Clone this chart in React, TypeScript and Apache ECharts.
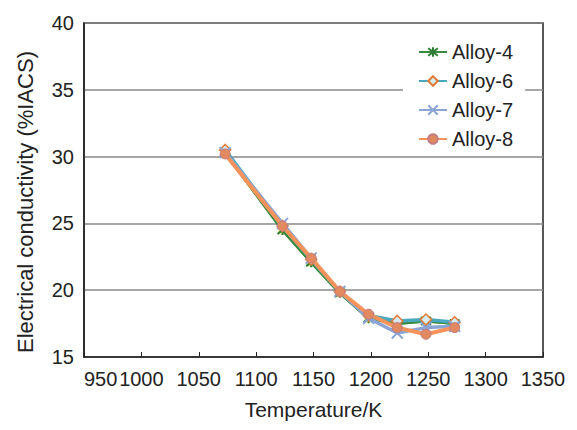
import React, { useEffect, useRef } from "react";
import * as echarts from "echarts";

const temperatures = [1073, 1123, 1148, 1173, 1198, 1223, 1248, 1273];
const alloy4 = [30.3, 24.5, 22.1, 19.8, 17.9, 17.5, 17.7, 17.5];
const alloy6 = [30.5, 24.8, 22.3, 19.9, 18.1, 17.7, 17.8, 17.6];
const alloy7 = [30.3, 25.0, 22.4, 19.9, 17.9, 16.8, 17.2, 17.3];
const alloy8 = [30.2, 24.8, 22.4, 19.9, 18.2, 17.2, 16.7, 17.2];
const seriesNames = ["Alloy-4", "Alloy-6", "Alloy-7", "Alloy-8"];

const FONT = "Liberation Sans, Arial, Helvetica, sans-serif";
const ASTERISK = "path://M1 1L9 9M9 1L1 9M5 0L5 10";
const CROSS = "path://M0 0L10 10M10 0L0 10";

const pairs = (ys: number[]) => temperatures.map((t, i) => [t, ys[i]]);

export default function App() {
  const ref = useRef<HTMLDivElement>(null);
  useEffect(() => {
    if (!ref.current) return;
    const chart = echarts.init(ref.current, null, { renderer: "svg" });
    chart.setOption({
      animation: false,
      textStyle: { fontFamily: FONT },
      grid: { left: 84, right: 34, top: 23, bottom: 73, show: true, borderColor: "#222", borderWidth: 1.5, backgroundColor: "transparent" },
      legend: {
        data: seriesNames,
        orient: "vertical",
        left: 403,
        top: 36,
        padding: [6, 12, 6, 15],
        backgroundColor: "#ffffff",
        itemWidth: 28,
        itemHeight: 12,
        itemGap: 9,
        textStyle: { fontSize: 20, color: "#222", fontFamily: FONT, lineHeight: 20 },
      },
      xAxis: {
        type: "value",
        min: 950,
        max: 1350,
        interval: 50,
        name: "Temperature/K",
        nameLocation: "middle",
        nameGap: 42,
        nameTextStyle: { fontSize: 21, color: "#222", fontFamily: FONT },
        axisLine: { show: true, lineStyle: { color: "#222", width: 1.5 } },
        axisTick: { show: true, inside: true, length: 5, lineStyle: { color: "#222", width: 1 } },
        axisLabel: {
          fontSize: 20,
          color: "#222",
          margin: 12,
          fontFamily: FONT,
          alignMinLabel: "left",
          formatter: (v: number) => String(v),
        },
        splitLine: { show: false },
      },
      yAxis: {
        type: "value",
        min: 15,
        max: 40,
        interval: 5,
        name: "Electrical conductivity (%IACS)",
        nameLocation: "middle",
        nameGap: 48,
        nameTextStyle: { fontSize: 22, color: "#222", fontFamily: FONT, padding: [0, 24, 0, 0] },
        axisLine: { show: true, lineStyle: { color: "#222", width: 1.5 } },
        axisTick: { show: false },
        axisLabel: { fontSize: 20, color: "#222", margin: 10, fontFamily: FONT },
        splitLine: { show: true, lineStyle: { color: "#888", width: 1.5 } },
      },
      series: [
        {
          name: "Alloy-4 bg",
          type: "line",
          data: pairs(alloy4),
          symbol: "rect",
          symbolSize: 9,
          lineStyle: { width: 3, color: "#3a8a3f" },
          itemStyle: { color: "#e6ef9a", borderWidth: 0 },
          z: 2,
        },
        {
          name: "Alloy-4",
          type: "line",
          data: pairs(alloy4),
          symbol: ASTERISK,
          symbolSize: 10,
          lineStyle: { width: 3, color: "#3a8a3f" },
          itemStyle: { color: "transparent", borderColor: "#2f7d35", borderWidth: 2 },
          z: 3,
        },
        {
          name: "Alloy-6",
          type: "line",
          data: pairs(alloy6),
          symbol: "diamond",
          symbolSize: 11,
          lineStyle: { width: 3.5, color: "#4aa9c0" },
          itemStyle: { color: "#d7ecf2", borderColor: "#e07b39", borderWidth: 1.5 },
          z: 4,
        },
        {
          name: "Alloy-7",
          type: "line",
          data: pairs(alloy7),
          symbol: CROSS,
          symbolSize: 11,
          lineStyle: { width: 3.5, color: "#8aa4d4" },
          itemStyle: { color: "transparent", borderColor: "#8aa4d4", borderWidth: 2 },
          z: 5,
        },
        {
          name: "Alloy-8",
          type: "line",
          data: pairs(alloy8),
          symbol: "circle",
          symbolSize: 10,
          lineStyle: { width: 4, color: "#f5935a" },
          itemStyle: { color: "#e2895f", borderColor: "#c07d86", borderWidth: 1 },
          z: 6,
        },
      ],
    });
    return () => chart.dispose();
  }, []);
  return <div ref={ref} style={{ width: 577, height: 430, marginLeft: -8, marginTop: -8 }} />;
}
